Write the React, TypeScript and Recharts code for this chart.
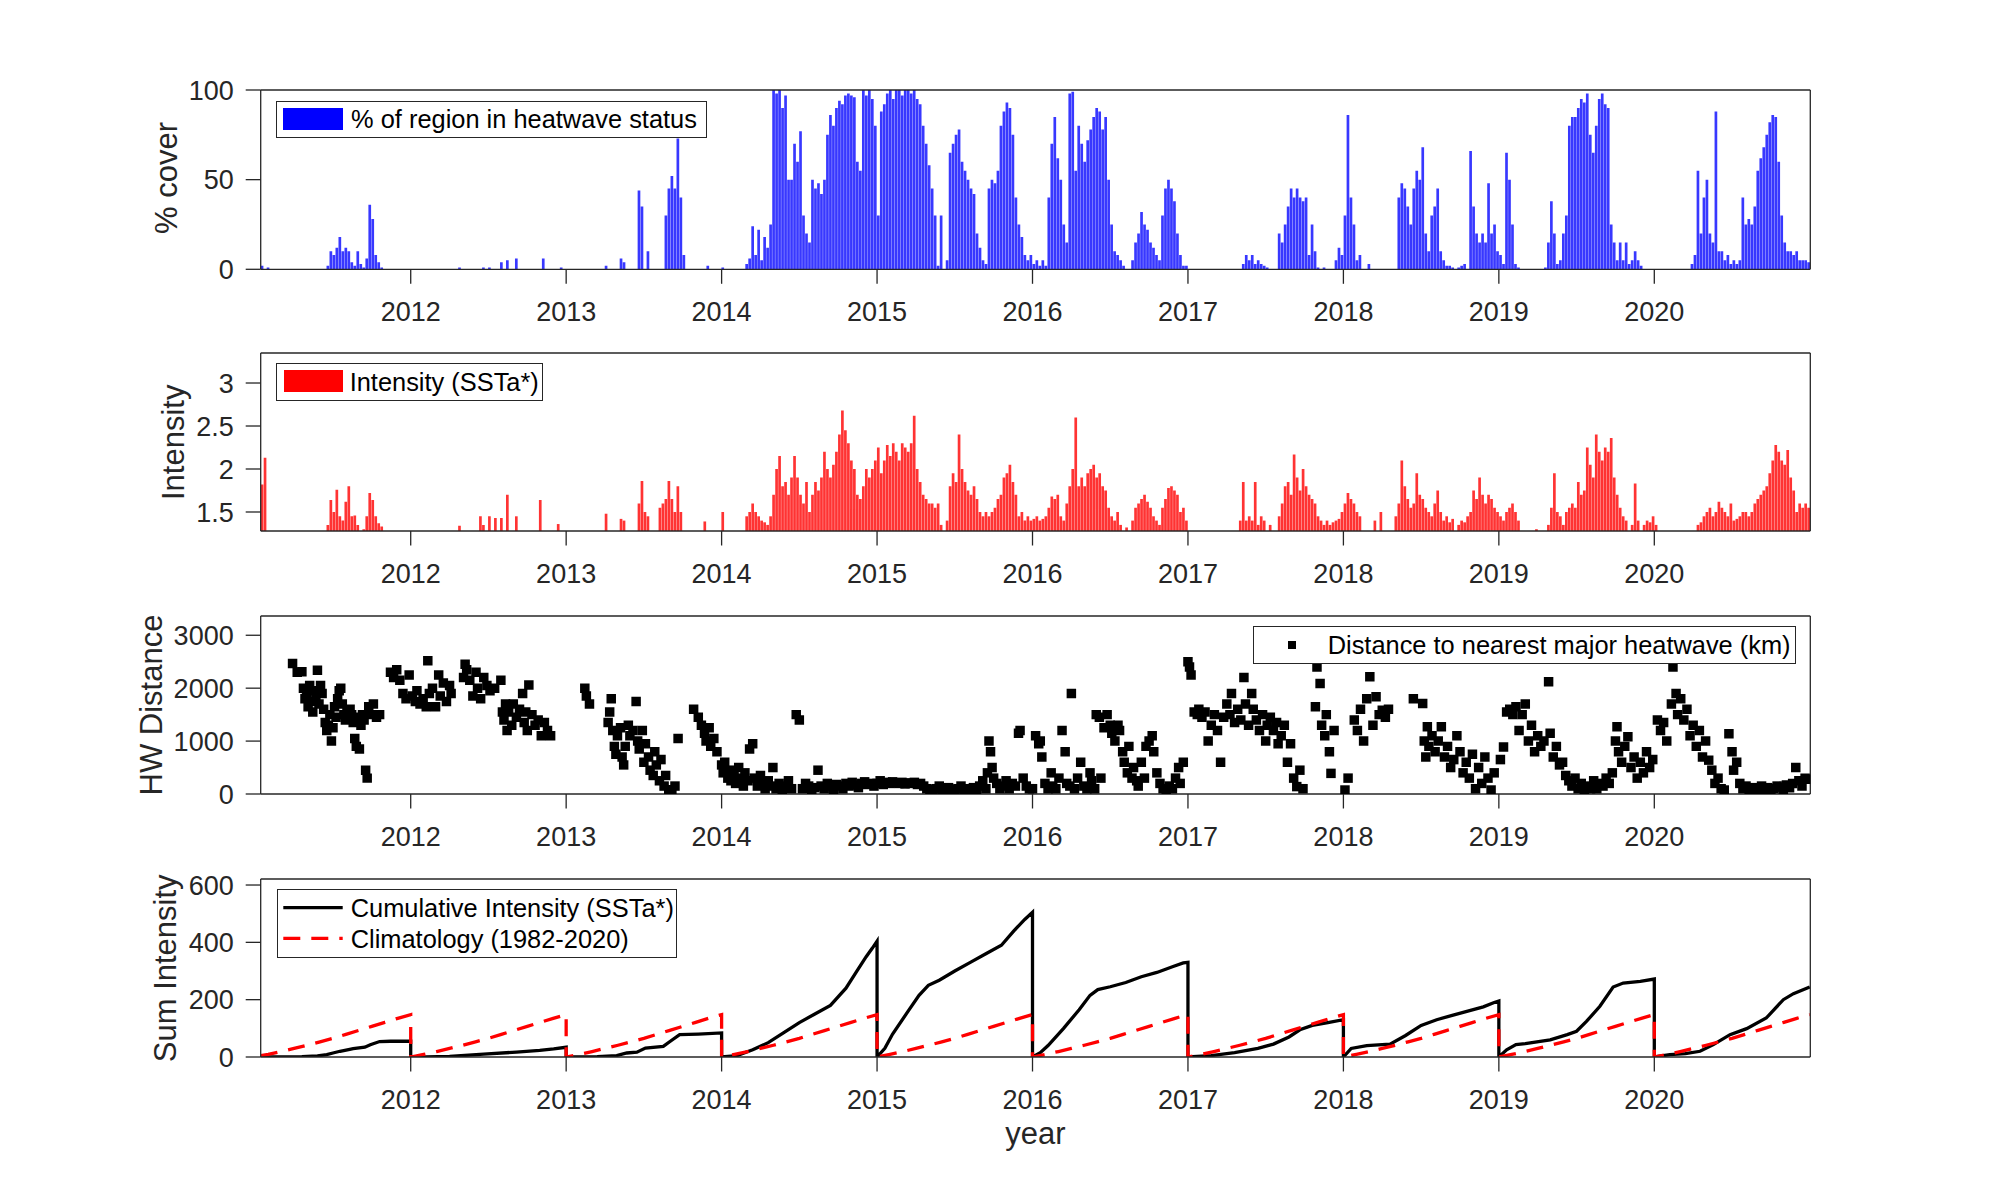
import { Bar, ComposedChart, Legend, Line, Scatter, XAxis, YAxis, ZAxis } from "recharts";

const FONT = "'Liberation Sans', Arial, Helvetica, sans-serif";
const AXIS_COLOR = "#262626";

const START = 2011.035;
const END = 2021.0035;
const yearTicks = [2012, 2013, 2014, 2015, 2016, 2017, 2018, 2019, 2020];

const coverTicks = [0, 50, 100];
const intensityTicks = [1.5, 2, 2.5, 3];
const distanceTicks = [0, 1000, 2000, 3000];
const sumTicks = [0, 200, 400, 600];

// weekly % of region in heatwave status, 26 weeks per row
const coverPct = [
  2, 0, 1, 0, 0, 0, 0, 0, 0, 0, 0, 0, 0, 0, 0, 0, 0, 0, 0, 0, 0, 0, 2, 10, 8, 12,
  18, 10, 12, 10, 4, 2, 10, 3, 1, 6, 36, 28, 8, 4, 1, 0, 0, 0, 0, 0, 0, 0, 0, 0, 0, 0,
  0, 0, 0, 0, 0, 0, 0, 0, 0, 0, 0, 0, 0, 0, 1, 0, 0, 0, 0, 0, 0, 0, 1, 0, 1, 0,
  0, 0, 4, 0, 5, 0, 0, 6, 0, 0, 0, 0, 0, 0, 0, 0, 6, 0, 0, 0, 0, 0, 1, 0, 0, 0,
  0, 0, 0, 0, 0, 0, 0, 0, 0, 0, 0, 2, 0, 0, 0, 0, 6, 4, 0, 0, 0, 0, 44, 35, 0, 10,
  0, 0, 0, 0, 0, 30, 45, 52, 45, 73, 40, 8, 0, 0, 0, 0, 0, 0, 0, 2, 0, 0, 0, 0, 1, 0,
  0, 0, 0, 0, 0, 0, 3, 6, 24, 8, 22, 5, 18, 12, 25, 100, 98, 100, 90, 97, 50, 50, 70, 60, 77, 30,
  20, 15, 50, 45, 48, 42, 50, 75, 86, 80, 90, 94, 92, 97, 98, 97, 96, 60, 55, 100, 97, 100, 95, 80, 30, 88,
  92, 98, 100, 95, 100, 100, 97, 100, 100, 98, 100, 95, 92, 80, 70, 58, 45, 30, 2, 30, 0, 5, 65, 70, 75, 78,
  60, 55, 50, 45, 42, 20, 12, 5, 3, 45, 50, 48, 55, 80, 88, 93, 90, 75, 40, 25, 18, 8, 5, 8, 3, 5,
  2, 5, 2, 40, 70, 85, 62, 50, 25, 15, 98, 99, 55, 80, 70, 60, 72, 78, 85, 90, 88, 78, 85, 50, 25, 10,
  8, 5, 2, 0, 0, 5, 15, 20, 32, 25, 22, 15, 12, 8, 5, 30, 45, 50, 45, 38, 20, 8, 2, 2, 0, 0,
  0, 0, 0, 0, 0, 0, 0, 0, 0, 0, 0, 0, 0, 0, 0, 0, 3, 8, 5, 8, 3, 5, 3, 2, 1, 0,
  0, 0, 20, 15, 25, 35, 45, 40, 45, 40, 38, 40, 8, 25, 10, 1, 0, 1, 0, 0, 0, 5, 12, 8, 30, 86,
  40, 25, 5, 8, 0, 0, 3, 0, 0, 0, 0, 0, 0, 0, 0, 0, 40, 48, 45, 35, 25, 45, 55, 50, 68, 20,
  10, 30, 35, 45, 10, 5, 2, 2, 1, 0, 1, 2, 3, 0, 66, 35, 20, 15, 20, 15, 48, 20, 25, 10, 8, 3,
  65, 50, 25, 3, 1, 0, 0, 0, 0, 0, 0, 0, 0, 1, 15, 38, 20, 3, 5, 20, 30, 80, 85, 85, 90, 95,
  93, 98, 75, 65, 80, 95, 98, 92, 90, 25, 15, 5, 15, 5, 15, 3, 5, 10, 5, 2, 0, 0, 0, 0, 0, 0,
  0, 0, 0, 0, 0, 0, 0, 0, 0, 0, 3, 8, 55, 20, 40, 50, 20, 15, 88, 10, 10, 5, 8, 3, 5, 3,
  5, 40, 25, 28, 25, 35, 55, 62, 68, 75, 82, 86, 85, 60, 30, 15, 10, 10, 8, 10, 5, 5, 5, 4,
];

// weekly heatwave intensity (SSTa*), 0 = no heatwave that week
const intensity = [
  1.82, 2.13, 0, 0, 0, 0, 0, 0, 0, 0, 0, 0, 0, 0, 0, 0, 0, 0, 0, 0, 0, 0, 1.35, 1.64, 1.5, 1.76,
  1.45, 1.4, 1.62, 1.8, 1.45, 1.46, 1.35, 0, 1.3, 1.45, 1.72, 1.64, 1.45, 1.37, 1.33, 0, 0, 0, 0, 0, 0, 0, 0, 0, 0, 0,
  0, 0, 0, 0, 0, 0, 0, 0, 0, 0, 0, 0, 0, 0, 1.34, 0, 0, 0, 0, 0, 0, 1.45, 1.35, 0, 1.45, 0,
  1.43, 0, 1.43, 0, 1.7, 0, 0, 1.45, 0, 0, 0, 0, 0, 0, 0, 1.64, 0, 0, 0, 0, 0, 1.36, 0, 0, 0, 0,
  0, 0, 0, 0, 0, 0, 0, 0, 0, 0, 0, 1.48, 0, 0, 0, 0, 1.42, 1.4, 0, 0, 0, 0, 1.6, 1.86, 1.5, 1.45,
  0, 0, 0, 1.55, 1.6, 1.65, 1.86, 1.65, 1.5, 1.8, 1.5, 0, 0, 0, 0, 0, 0, 0, 1.39, 0, 0, 0, 0, 0, 1.5, 0,
  0, 0, 0, 0, 0, 0, 1.45, 1.5, 1.6, 1.5, 1.45, 1.4, 1.38, 1.35, 1.45, 1.7, 2.0, 2.15, 1.8, 1.85, 1.7, 1.9, 2.15, 1.9, 1.7, 1.6,
  1.85, 1.5, 1.7, 1.85, 1.75, 1.9, 2.2, 2.0, 1.9, 2.05, 2.2, 2.4, 2.68, 2.45, 2.3, 2.1, 2.0, 1.7, 1.65, 1.8, 2.0, 1.9, 2.0, 2.1, 2.25, 1.95,
  2.1, 2.28, 2.15, 2.3, 2.2, 2.1, 2.3, 2.25, 2.2, 2.3, 2.62, 2.0, 1.85, 1.7, 1.65, 1.6, 1.6, 1.55, 1.6, 1.35, 0, 1.4, 1.8, 1.95, 1.85, 2.4,
  2.0, 1.85, 1.75, 1.7, 1.8, 1.65, 1.5, 1.45, 1.5, 1.45, 1.5, 1.55, 1.65, 1.7, 1.9, 1.95, 2.05, 1.85, 1.7, 1.45, 1.5, 1.4, 1.45, 1.4, 1.42, 1.45,
  1.4, 1.42, 1.45, 1.55, 1.68, 1.65, 1.7, 1.45, 1.4, 1.6, 1.8, 2.0, 2.6, 1.8, 1.9, 1.8, 1.95, 2.0, 2.05, 1.9, 1.95, 1.8, 1.75, 1.55, 1.45, 1.4,
  1.5, 1.35, 0, 1.32, 0, 1.4, 1.55, 1.6, 1.65, 1.7, 1.62, 1.55, 1.45, 1.4, 1.35, 1.55, 1.65, 1.78, 1.8, 1.75, 1.7, 1.5, 1.55, 1.4, 0, 0,
  0, 0, 0, 0, 0, 0, 0, 0, 0, 0, 0, 0, 0, 0, 0, 1.4, 1.85, 1.4, 1.45, 1.4, 1.85, 1.35, 1.45, 1.4, 0, 1.35,
  0, 0, 1.45, 1.6, 1.8, 1.85, 1.7, 2.17, 1.9, 1.75, 2.0, 1.8, 1.7, 1.65, 1.6, 1.45, 1.4, 1.35, 1.4, 1.35, 1.38, 1.4, 1.42, 1.5, 1.6, 1.72,
  1.65, 1.6, 1.5, 1.45, 0, 0, 0, 0, 1.4, 0, 1.5, 0, 0, 0, 0, 1.45, 1.6, 2.1, 1.8, 1.65, 1.55, 1.6, 1.95, 1.7, 1.65, 1.55,
  1.5, 1.45, 1.6, 1.75, 1.5, 1.4, 1.45, 1.38, 1.42, 0, 1.35, 1.4, 1.38, 1.45, 1.5, 1.75, 1.65, 1.9, 1.7, 1.6, 1.7, 1.65, 1.55, 1.5, 1.45, 1.4,
  1.5, 1.55, 1.6, 1.5, 1.4, 0, 0, 0, 0, 0, 1.3, 0, 0, 0, 1.35, 1.55, 1.95, 1.5, 1.45, 1.35, 1.5, 1.55, 1.6, 1.55, 1.85, 1.7,
  1.75, 2.25, 2.05, 1.9, 2.4, 2.2, 2.1, 2.25, 2.2, 2.36, 1.9, 1.7, 1.55, 1.45, 1.4, 0, 1.35, 1.83, 1.4, 0, 1.35, 1.4, 1.38, 1.45, 1.35, 0,
  0, 0, 0, 0, 0, 0, 0, 0, 0, 0, 0, 0, 1.35, 1.38, 1.45, 1.5, 1.55, 1.45, 1.5, 1.62, 1.55, 1.5, 1.45, 1.6, 1.4, 1.42,
  1.45, 1.5, 1.5, 1.45, 1.5, 1.6, 1.65, 1.7, 1.75, 1.8, 1.95, 2.1, 2.28, 2.2, 2.1, 2.05, 2.22, 1.9, 1.75, 1.5, 1.6, 1.55, 1.6, 1.55,
];

type Pair = [number, number];

// distance to nearest major heatwave (km): [decimal year, km]
const distance2011: Pair[] = [
  [2011.24, 2465], [2011.27, 2300], [2011.3, 2310], [2011.31, 2000], [2011.32, 1800], [2011.33, 1900],
  [2011.34, 1650], [2011.35, 2050], [2011.36, 1750], [2011.37, 1550], [2011.38, 1950], [2011.39, 1850],
  [2011.4, 2340], [2011.41, 1700], [2011.42, 2050], [2011.43, 1900], [2011.44, 1600], [2011.45, 1350],
  [2011.46, 1200], [2011.47, 1300], [2011.48, 1500], [2011.49, 1000], [2011.5, 1250], [2011.51, 1650],
  [2011.52, 1450], [2011.53, 1800], [2011.54, 1950], [2011.55, 2000], [2011.56, 1700], [2011.57, 1500],
  [2011.58, 1400], [2011.59, 1550], [2011.6, 1450], [2011.61, 1600], [2011.62, 1500], [2011.63, 1350],
  [2011.64, 1050], [2011.65, 900], [2011.66, 1450], [2011.67, 850], [2011.68, 1300], [2011.69, 1500],
  [2011.7, 1400], [2011.71, 450], [2011.72, 300], [2011.73, 1650], [2011.74, 1500], [2011.76, 1700],
  [2011.78, 1450], [2011.8, 1500], [2011.87, 2300], [2011.89, 2200], [2011.91, 2350], [2011.93, 2150],
  [2011.95, 1900], [2011.97, 1800], [2011.99, 2250],
];
const distance2012: Pair[] = [
  [2012.01, 1850], [2012.03, 1750], [2012.04, 1950], [2012.06, 1700], [2012.08, 1800], [2012.1, 1650],
  [2012.11, 2520], [2012.12, 1900], [2012.14, 2000], [2012.16, 1650], [2012.18, 2250], [2012.19, 1850],
  [2012.21, 2100], [2012.23, 1750], [2012.25, 2050], [2012.26, 1900], [2012.34, 2200], [2012.35, 2450],
  [2012.36, 2350], [2012.38, 2150], [2012.4, 1850], [2012.42, 2300], [2012.43, 2000], [2012.45, 1800],
  [2012.47, 2200], [2012.49, 2050], [2012.51, 1950], [2012.54, 2000], [2012.58, 2150], [2012.59, 1550],
  [2012.6, 1400], [2012.61, 1700], [2012.62, 1200], [2012.63, 1550], [2012.65, 1300], [2012.66, 1700],
  [2012.68, 1450], [2012.7, 1600], [2012.72, 1900], [2012.73, 1350], [2012.74, 1550], [2012.75, 1200],
  [2012.76, 2060], [2012.78, 1500], [2012.8, 1300], [2012.82, 1400], [2012.84, 1100], [2012.86, 1350],
  [2012.88, 1200], [2012.9, 1100],
];
const distance2013: Pair[] = [
  [2013.12, 2000], [2013.13, 1850], [2013.15, 1700], [2013.27, 1350], [2013.28, 1550], [2013.29, 1800],
  [2013.3, 1200], [2013.31, 900], [2013.32, 750], [2013.33, 1100], [2013.35, 1250], [2013.36, 700],
  [2013.37, 550], [2013.38, 900], [2013.4, 1300], [2013.41, 1100], [2013.43, 1200], [2013.45, 1750],
  [2013.46, 1000], [2013.47, 850], [2013.49, 1200], [2013.5, 600], [2013.51, 950], [2013.53, 700],
  [2013.54, 450], [2013.56, 350], [2013.57, 800], [2013.58, 550], [2013.6, 250], [2013.61, 650],
  [2013.63, 150], [2013.64, 350], [2013.66, 80], [2013.68, 50], [2013.7, 150], [2013.72, 1050],
  [2013.82, 1600], [2013.85, 1450], [2013.87, 1300], [2013.89, 1150], [2013.9, 1000], [2013.92, 1250],
  [2013.93, 900], [2013.95, 1050], [2013.97, 800],
];
const distance2014: Pair[] = [
  [2014.0, 550], [2014.01, 400], [2014.02, 600], [2014.04, 300], [2014.05, 450], [2014.06, 250],
  [2014.08, 350], [2014.09, 200], [2014.11, 500], [2014.12, 300], [2014.14, 150], [2014.15, 400],
  [2014.17, 250], [2014.18, 850], [2014.2, 950], [2014.21, 300], [2014.23, 150], [2014.25, 350],
  [2014.27, 200], [2014.28, 100], [2014.3, 250], [2014.32, 150], [2014.33, 500], [2014.35, 100],
  [2014.37, 200], [2014.39, 80], [2014.41, 150], [2014.43, 250], [2014.45, 100], [2014.48, 1500],
  [2014.5, 1400], [2014.52, 100], [2014.54, 200], [2014.56, 150], [2014.58, 80], [2014.6, 120],
  [2014.62, 450], [2014.64, 150], [2014.66, 100], [2014.68, 200], [2014.7, 150], [2014.72, 80],
  [2014.74, 180], [2014.76, 150], [2014.78, 100], [2014.8, 200], [2014.82, 150], [2014.84, 220],
  [2014.86, 170], [2014.88, 120], [2014.9, 200], [2014.92, 230], [2014.94, 180], [2014.96, 200],
  [2014.98, 150],
];
const distance2015: Pair[] = [
  [2015.0, 200], [2015.02, 250], [2015.04, 180], [2015.06, 220], [2015.08, 200], [2015.1, 230],
  [2015.12, 210], [2015.14, 200], [2015.16, 220], [2015.18, 190], [2015.2, 210], [2015.22, 200],
  [2015.24, 220], [2015.26, 180], [2015.28, 200], [2015.3, 150], [2015.32, 100], [2015.34, 80],
  [2015.36, 50], [2015.38, 100], [2015.4, 150], [2015.42, 60], [2015.44, 50], [2015.46, 120],
  [2015.48, 80], [2015.5, 50], [2015.52, 100], [2015.54, 150], [2015.56, 60], [2015.58, 100],
  [2015.6, 50], [2015.62, 120], [2015.64, 80], [2015.66, 150], [2015.68, 250], [2015.7, 100],
  [2015.71, 400], [2015.72, 1000], [2015.73, 800], [2015.74, 500], [2015.75, 300], [2015.77, 200],
  [2015.79, 100], [2015.81, 150], [2015.83, 250], [2015.85, 100], [2015.87, 200], [2015.89, 150],
  [2015.91, 1150], [2015.92, 1200], [2015.94, 300], [2015.96, 150], [2015.98, 100],
];
const distance2016: Pair[] = [
  [2016.0, 100], [2016.02, 1100], [2016.04, 950], [2016.05, 1000], [2016.06, 700], [2016.08, 200],
  [2016.1, 100], [2016.12, 400], [2016.13, 150], [2016.15, 100], [2016.17, 300], [2016.19, 1200],
  [2016.21, 800], [2016.22, 200], [2016.24, 150], [2016.25, 1900], [2016.27, 100], [2016.29, 300],
  [2016.31, 600], [2016.33, 150], [2016.35, 100], [2016.37, 400], [2016.38, 250], [2016.4, 100],
  [2016.41, 1500], [2016.43, 1450], [2016.44, 300], [2016.46, 1250], [2016.48, 1500], [2016.5, 1300],
  [2016.51, 1150], [2016.53, 1000], [2016.55, 1300], [2016.56, 1200], [2016.58, 800], [2016.59, 600],
  [2016.61, 400], [2016.62, 900], [2016.64, 300], [2016.65, 500], [2016.67, 250], [2016.68, 150],
  [2016.7, 600], [2016.72, 300], [2016.73, 900], [2016.75, 1000], [2016.77, 1100], [2016.78, 800],
  [2016.8, 400], [2016.82, 200], [2016.84, 100], [2016.86, 50], [2016.88, 150], [2016.9, 100],
  [2016.92, 300], [2016.94, 500], [2016.95, 200], [2016.97, 600],
];
const distance2017: Pair[] = [
  [2017.0, 2500], [2017.01, 2400], [2017.02, 2250], [2017.04, 1550], [2017.06, 1500], [2017.07, 1600],
  [2017.09, 1450], [2017.11, 1550], [2017.13, 1000], [2017.15, 1300], [2017.17, 1500], [2017.19, 1200],
  [2017.21, 600], [2017.23, 1450], [2017.25, 1700], [2017.27, 1500], [2017.28, 1900], [2017.3, 1350],
  [2017.32, 1600], [2017.34, 1400], [2017.36, 2200], [2017.37, 1700], [2017.39, 1300], [2017.41, 1900],
  [2017.42, 1600], [2017.44, 1400], [2017.46, 1200], [2017.48, 1500], [2017.5, 1000], [2017.51, 1300],
  [2017.53, 1450], [2017.55, 1200], [2017.57, 1350], [2017.58, 950], [2017.6, 1100], [2017.62, 1300],
  [2017.64, 600], [2017.66, 950], [2017.68, 300], [2017.7, 140], [2017.72, 450], [2017.74, 100],
  [2017.82, 1650], [2017.83, 2400], [2017.85, 2090], [2017.86, 1300], [2017.88, 1100], [2017.89, 1500],
  [2017.91, 800], [2017.92, 390], [2017.94, 1200],
];
const distance2018: Pair[] = [
  [2018.01, 75], [2018.03, 300], [2018.07, 1400], [2018.09, 1200], [2018.11, 1600], [2018.13, 1000],
  [2018.15, 1800], [2018.17, 2214], [2018.19, 1300], [2018.21, 1837], [2018.23, 1500], [2018.25, 1585],
  [2018.27, 1450], [2018.29, 1600], [2018.45, 1800], [2018.51, 1710], [2018.52, 1000], [2018.53, 700],
  [2018.54, 1270], [2018.55, 900], [2018.57, 1100], [2018.59, 800], [2018.61, 1000], [2018.63, 1270],
  [2018.65, 700], [2018.67, 900], [2018.69, 500], [2018.71, 650], [2018.73, 1100], [2018.75, 800],
  [2018.77, 400], [2018.79, 600], [2018.81, 300], [2018.83, 750], [2018.85, 100], [2018.87, 500],
  [2018.89, 200], [2018.91, 700], [2018.93, 300], [2018.95, 75], [2018.97, 400],
];
const distance2019: Pair[] = [
  [2019.01, 650], [2019.03, 890], [2019.05, 1550], [2019.07, 1600], [2019.09, 1500], [2019.11, 1650],
  [2019.13, 1200], [2019.15, 1500], [2019.17, 1700], [2019.19, 1000], [2019.21, 1300], [2019.23, 800],
  [2019.25, 1100], [2019.27, 900], [2019.29, 1000], [2019.32, 2120], [2019.33, 1150], [2019.35, 700],
  [2019.37, 900], [2019.39, 550], [2019.41, 600], [2019.43, 350], [2019.45, 250], [2019.47, 150],
  [2019.49, 300], [2019.51, 100], [2019.53, 200], [2019.55, 75], [2019.57, 150], [2019.59, 100],
  [2019.61, 250], [2019.63, 100], [2019.65, 200], [2019.67, 150], [2019.69, 300], [2019.71, 200],
  [2019.73, 400], [2019.75, 1000], [2019.76, 1270], [2019.77, 800], [2019.79, 600], [2019.81, 900],
  [2019.83, 1080], [2019.85, 500], [2019.87, 700], [2019.89, 300], [2019.91, 600], [2019.93, 400],
  [2019.95, 800], [2019.97, 500], [2019.99, 650],
];
const distance2020: Pair[] = [
  [2020.02, 1400], [2020.04, 1200], [2020.06, 1350], [2020.08, 1000], [2020.11, 1700], [2020.12, 2400],
  [2020.14, 1900], [2020.15, 1500], [2020.17, 1800], [2020.19, 1400], [2020.21, 1600], [2020.23, 1100],
  [2020.25, 1300], [2020.27, 900], [2020.29, 1200], [2020.31, 700], [2020.33, 1000], [2020.35, 640],
  [2020.37, 450], [2020.39, 200], [2020.41, 300], [2020.43, 100], [2020.45, 75], [2020.48, 1140],
  [2020.5, 800], [2020.51, 450], [2020.53, 600], [2020.55, 200], [2020.57, 100], [2020.59, 150],
  [2020.61, 80], [2020.63, 120], [2020.65, 60], [2020.67, 100], [2020.69, 150], [2020.71, 80],
  [2020.73, 120], [2020.75, 60], [2020.77, 100], [2020.79, 150], [2020.81, 130], [2020.83, 90],
  [2020.85, 170], [2020.87, 120], [2020.89, 200], [2020.91, 500], [2020.93, 250], [2020.95, 150],
  [2020.97, 300], [2020.99, 280],
];

// cumulative intensity, reset every 1 January: [decimal year, sum]
const cumulative2011: Pair[] = [
  [2011.035, 0], [2011.3, 1], [2011.4, 4], [2011.46, 8], [2011.5, 14], [2011.545, 20], [2011.6, 26],
  [2011.63, 29], [2011.705, 34], [2011.74, 43], [2011.8, 54], [2011.87, 55], [2012.0, 55],
];
const cumulative2012: Pair[] = [
  [2012.0, 0], [2012.1, 0], [2012.25, 2], [2012.47, 10], [2012.68, 17], [2012.83, 23], [2012.92, 28], [2013.0, 34],
];
const cumulative2013: Pair[] = [
  [2013.0, 0], [2013.2, 1], [2013.325, 5], [2013.39, 14], [2013.455, 17], [2013.51, 31], [2013.625, 37],
  [2013.67, 55], [2013.73, 78], [2013.85, 80], [2014.0, 84],
];
const cumulative2014: Pair[] = [
  [2014.0, 0], [2014.1, 5], [2014.2, 25], [2014.3, 50], [2014.4, 85], [2014.5, 120], [2014.6, 150],
  [2014.7, 180], [2014.8, 240], [2014.87, 300], [2014.93, 350], [2014.97, 380], [2015.0, 404],
];
const cumulative2015: Pair[] = [
  [2015.0, 0], [2015.05, 30], [2015.1, 80], [2015.2, 160], [2015.27, 215], [2015.33, 250], [2015.4, 268],
  [2015.5, 300], [2015.6, 330], [2015.7, 360], [2015.8, 390], [2015.88, 440], [2015.95, 480], [2016.0, 505],
];
const cumulative2016: Pair[] = [
  [2016.0, 0], [2016.05, 15], [2016.1, 40], [2016.2, 100], [2016.3, 165], [2016.37, 215], [2016.42, 235],
  [2016.5, 245], [2016.6, 260], [2016.7, 280], [2016.8, 295], [2016.9, 315], [2016.97, 328], [2017.0, 330],
];
const cumulative2017: Pair[] = [
  [2017.0, 0], [2017.15, 5], [2017.3, 15], [2017.45, 30], [2017.55, 45], [2017.65, 70], [2017.72, 95],
  [2017.8, 110], [2017.9, 120], [2018.0, 130],
];
const cumulative2018: Pair[] = [
  [2018.0, 0], [2018.05, 30], [2018.15, 40], [2018.3, 45], [2018.4, 75], [2018.5, 110], [2018.6, 130],
  [2018.7, 145], [2018.8, 160], [2018.9, 175], [2018.97, 190], [2019.0, 195],
];
const cumulative2019: Pair[] = [
  [2019.0, 0], [2019.05, 25], [2019.11, 43], [2019.17, 47], [2019.33, 60], [2019.44, 78], [2019.5, 90],
  [2019.565, 125], [2019.65, 177], [2019.735, 244], [2019.8, 258], [2019.91, 264], [2020.0, 272],
];
const cumulative2020: Pair[] = [
  [2020.0, 0], [2020.1, 8], [2020.2, 12], [2020.294, 20], [2020.38, 43], [2020.487, 78], [2020.594, 99],
  [2020.72, 136], [2020.83, 200], [2020.895, 221], [2021.0, 244],
];

// climatology (1982-2020) cumulative intensity at the start of each month, plus 31 Dec
const climatologyMonthly = [0, 9, 19, 30, 41, 53, 65, 79, 93, 107, 121, 135, 148];
const climatologyStart = 5;
const climatologyYears = [2011, 2012, 2013, 2014, 2015, 2016, 2017, 2018, 2019, 2020];

const toPoints = (pairs: Pair[]) => pairs.map(([t, v]) => ({ t, v }));

const WEEK = (END - START) / coverPct.length;
const INTENSITY_FLOOR = 1.279;

const weeklyData = coverPct.map((cover, i) => ({
  t: START + (i + 0.5) * WEEK,
  cover: cover > 0 ? cover : null,
  intensity: intensity[i] > 0 ? [INTENSITY_FLOOR, intensity[i]] : null,
}));

const distanceData = toPoints([
  ...distance2011, ...distance2012, ...distance2013, ...distance2014, ...distance2015,
  ...distance2016, ...distance2017, ...distance2018, ...distance2019, ...distance2020,
]);

const cumulativeData = toPoints([
  ...cumulative2011, ...cumulative2012, ...cumulative2013, ...cumulative2014, ...cumulative2015,
  ...cumulative2016, ...cumulative2017, ...cumulative2018, ...cumulative2019, ...cumulative2020,
]);

const climatologyData = [{ t: START, v: climatologyStart }];
climatologyYears.forEach((year) => {
  climatologyMonthly.forEach((v, k) => {
    const t = year + k / 12;
    if (t > START) climatologyData.push({ t, v });
  });
});

// layout (px)
const PLOT_LEFT = 260.7;
const PLOT_RIGHT = 1810.3;
const Y_AXIS_W = 60;
const TOP_AXIS_H = 20;
const BOTTOM_AXIS_H = 60;
const chartMargin = {
  top: 60 - TOP_AXIS_H,
  right: 2000 - PLOT_RIGHT - Y_AXIS_W,
  bottom: 0,
  left: PLOT_LEFT - Y_AXIS_W,
};

const tickText = { fontSize: 27, fill: AXIS_COLOR, fontFamily: FONT };
const axisStroke = { stroke: AXIS_COLOR, strokeWidth: 1.3 };

function axes(yTicks: number[], yDomain: [number, number]) {
  return [
    <XAxis
      key="x-bottom"
      dataKey="t"
      type="number"
      domain={[START, END]}
      allowDataOverflow
      ticks={yearTicks}
      interval={0}
      height={BOTTOM_AXIS_H}
      tickSize={14.5}
      tickMargin={18}
      tick={tickText}
      axisLine={axisStroke}
      tickLine={axisStroke}
    />,
    <XAxis
      key="x-top"
      xAxisId="top"
      orientation="top"
      dataKey="t"
      type="number"
      domain={[START, END]}
      allowDataOverflow
      ticks={yearTicks}
      interval={0}
      height={TOP_AXIS_H}
      tickSize={14.5}
      tick={false}
      axisLine={axisStroke}
      tickLine={axisStroke}
    />,
    <YAxis
      key="y-left"
      type="number"
      domain={yDomain}
      allowDataOverflow
      ticks={yTicks}
      interval={0}
      width={Y_AXIS_W}
      tickSize={15}
      tickMargin={12}
      tick={tickText}
      axisLine={axisStroke}
      tickLine={axisStroke}
    />,
    <YAxis
      key="y-right"
      yAxisId="right"
      orientation="right"
      type="number"
      domain={yDomain}
      allowDataOverflow
      ticks={yTicks}
      interval={0}
      width={Y_AXIS_W}
      tickSize={15}
      tick={false}
      axisLine={axisStroke}
      tickLine={axisStroke}
    />,
  ];
}

const legendBox = (width: number, height: number) => ({
  boxSizing: "border-box" as const,
  position: "relative" as const,
  width,
  height,
  border: `1.3px solid ${AXIS_COLOR}`,
  background: "#ffffff",
  fontFamily: FONT,
  fontSize: 25.4,
  color: "#000000",
  whiteSpace: "nowrap" as const,
});

const legendText = (left: number, centerY: number) => ({
  position: "absolute" as const,
  left,
  top: centerY - 15,
  height: 30,
  lineHeight: "30px",
});

function legendAt(left: number, top: number, width: number, height: number, content: () => JSX.Element) {
  return (
    <Legend
      layout="vertical"
      align="center"
      verticalAlign="middle"
      wrapperStyle={{ left, top, width, height }}
      content={content}
    />
  );
}

function Panel({ top, height, children }: { top: number; height: number; children: JSX.Element }) {
  return (
    <div style={{ position: "absolute", left: 0, top: top - 60, width: 2000, height: height + 120 }}>
      {children}
    </div>
  );
}

export default function App() {
  return (
    <div
      style={{
        position: "absolute",
        left: 0,
        top: 0,
        width: 2000,
        height: 1200,
        background: "#ffffff",
        fontFamily: FONT,
        overflow: "hidden",
      }}
    >
      <Panel top={90} height={179.3}>
        <ComposedChart width={2000} height={299.3} data={weeklyData} margin={chartMargin}>
          {axes(coverTicks, [0, 100])}
          <Bar dataKey="cover" fill="#0000ff" fillOpacity={0.78} barSize={3.1} isAnimationActive={false} />
          {legendAt(276.4, 70.7, 431, 37.6, () => (
            <div style={legendBox(431, 37.6)}>
              <div style={{ position: "absolute", left: 6, top: 6, width: 60, height: 22.3, background: "#0000ff" }} />
              <span style={legendText(73.7, 17.5)}>% of region in heatwave status</span>
            </div>
          ))}
        </ComposedChart>
      </Panel>

      <Panel top={353.3} height={178}>
        <ComposedChart width={2000} height={298} data={weeklyData} margin={chartMargin}>
          {axes(intensityTicks, [INTENSITY_FLOOR, 3.349])}
          <Bar dataKey="intensity" fill="#ff0000" fillOpacity={0.8} barSize={3.1} isAnimationActive={false} />
          {legendAt(276, 70, 267.3, 38, () => (
            <div style={legendBox(267.3, 38)}>
              <div style={{ position: "absolute", left: 6.7, top: 6.1, width: 59.7, height: 22, background: "#ff0000" }} />
              <span style={legendText(72.7, 17.7)}>Intensity (SSTa*)</span>
            </div>
          ))}
        </ComposedChart>
      </Panel>

      <Panel top={616} height={178}>
        <ComposedChart width={2000} height={298} margin={chartMargin}>
          {axes(distanceTicks, [0, 3364])}
          <ZAxis range={[90, 90]} />
          <Scatter data={distanceData} dataKey="v" shape="square" fill="#000000" isAnimationActive={false} />
          {legendAt(1253, 70, 543, 38.3, () => (
            <div style={legendBox(543, 38.3)}>
              <div style={{ position: "absolute", left: 33.5, top: 13.5, width: 8, height: 8, background: "#000000" }} />
              <span style={legendText(73.7, 17.8)}>Distance to nearest major heatwave (km)</span>
            </div>
          ))}
        </ComposedChart>
      </Panel>

      <Panel top={879.3} height={178}>
        <ComposedChart width={2000} height={298} margin={chartMargin}>
          {axes(sumTicks, [0, 621])}
          <Line
            data={cumulativeData}
            dataKey="v"
            type="linear"
            stroke="#000000"
            strokeWidth={3.3}
            dot={false}
            isAnimationActive={false}
          />
          <Line
            data={climatologyData}
            dataKey="v"
            type="linear"
            stroke="#ff0000"
            strokeWidth={3.3}
            strokeDasharray="17 11"
            dot={false}
            isAnimationActive={false}
          />
          {legendAt(276.7, 70, 400, 69, () => (
            <div style={legendBox(400, 69)}>
              <svg style={{ position: "absolute", left: 0, top: 0 }} width={80} height={67}>
                <line x1={5.3} x2={64.7} y1={17.7} y2={17.7} stroke="#000000" strokeWidth={3.3} />
                <line x1={5.3} x2={64.7} y1={48.4} y2={48.4} stroke="#ff0000" strokeWidth={3.3} strokeDasharray="17 11" />
              </svg>
              <span style={legendText(73, 17.7)}>Cumulative Intensity (SSTa*)</span>
              <span style={legendText(73, 48.4)}>Climatology (1982-2020)</span>
            </div>
          ))}
        </ComposedChart>
      </Panel>

      <svg
        width={2000}
        height={1200}
        style={{ position: "absolute", left: 0, top: 0, pointerEvents: "none" }}
        fontFamily={FONT}
        fontSize={31}
        fill={AXIS_COLOR}
      >
        <text transform="translate(177.3,178) rotate(-90)" textAnchor="middle">% cover</text>
        <text transform="translate(184,442.3) rotate(-90)" textAnchor="middle">Intensity</text>
        <text transform="translate(161.5,705) rotate(-90)" textAnchor="middle">HW Distance</text>
        <text transform="translate(176,968.3) rotate(-90)" textAnchor="middle">Sum Intensity</text>
        <text x={1035.5} y={1144} textAnchor="middle">year</text>
      </svg>
    </div>
  );
}
